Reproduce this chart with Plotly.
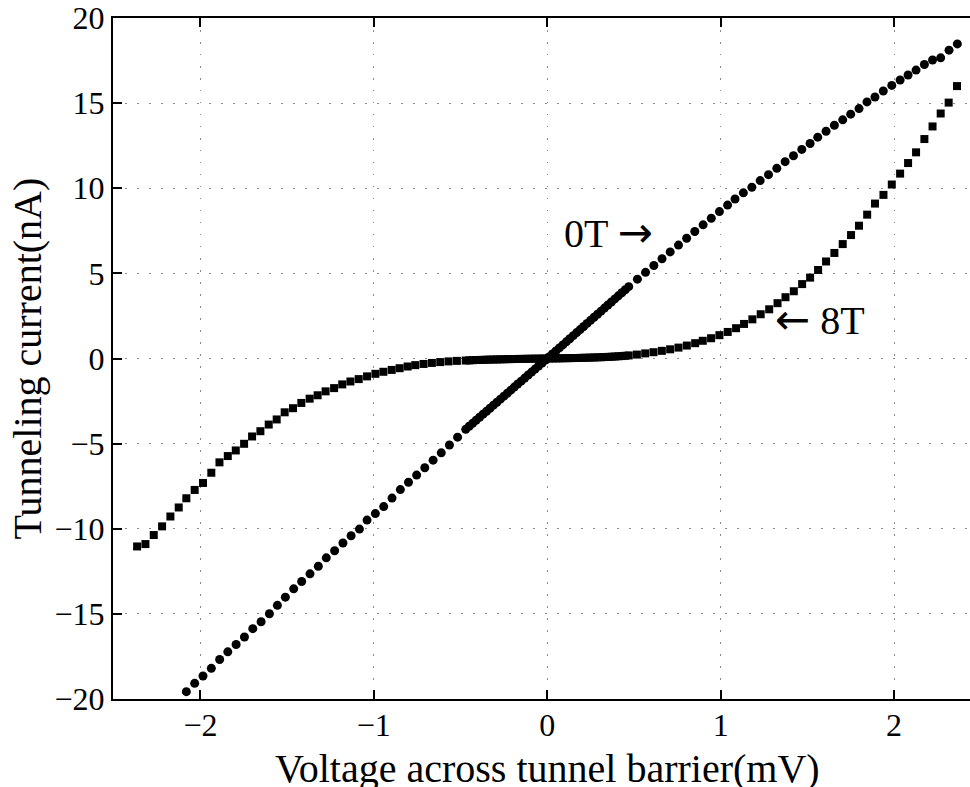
import plotly.graph_objects as go

# ---------------- data ----------------
# 0 T curve (circles)
v0_neg = [-2.081, -2.033, -1.985, -1.937, -1.889, -1.842, -1.794, -1.746, -1.698, -1.650,
          -1.602, -1.556, -1.510, -1.462, -1.416, -1.368, -1.320, -1.274, -1.226, -1.178,
          -1.131, -1.083, -1.039, -0.991, -0.943, -0.895, -0.847, -0.800, -0.753, -0.706,
          -0.658, -0.611, -0.564, -0.517]
i0_neg = [-19.57, -19.08, -18.65, -18.20, -17.68, -17.23, -16.80, -16.36, -15.87, -15.46,
          -14.99, -14.50, -14.02, -13.53, -13.10, -12.65, -12.20, -11.71, -11.29, -10.84,
          -10.41, -10.02, -9.49, -9.11, -8.70, -8.20, -7.70, -7.27, -6.85, -6.42,
          -5.97, -5.54, -5.08, -4.62]
v0_fine = [-0.47, -0.45, -0.43, -0.41, -0.39, -0.37, -0.35, -0.33, -0.31, -0.29,
           -0.27, -0.25, -0.23, -0.21, -0.19, -0.17, -0.15, -0.13, -0.11, -0.09,
           -0.07, -0.05, -0.03, -0.01, 0.01, 0.03, 0.05, 0.07, 0.09, 0.11,
           0.13, 0.15, 0.17, 0.19, 0.21, 0.23, 0.25, 0.27, 0.29, 0.31,
           0.33, 0.35, 0.37, 0.39, 0.41, 0.43, 0.45, 0.47]
i0_fine = [-4.16, -3.98, -3.81, -3.63, -3.45, -3.27, -3.10, -2.92, -2.74, -2.57,
           -2.39, -2.21, -2.04, -1.86, -1.68, -1.50, -1.33, -1.15, -0.97, -0.80,
           -0.62, -0.44, -0.27, -0.09, 0.09, 0.27, 0.44, 0.62, 0.80, 0.98,
           1.16, 1.34, 1.52, 1.70, 1.88, 2.06, 2.24, 2.42, 2.60, 2.78,
           2.96, 3.14, 3.32, 3.50, 3.68, 3.86, 4.04, 4.22]
v0_pos = [0.520, 0.567, 0.615, 0.662, 0.709, 0.757, 0.804, 0.851, 0.899, 0.946,
          0.993, 1.040, 1.083, 1.131, 1.180, 1.228, 1.276, 1.324, 1.372, 1.420,
          1.468, 1.516, 1.560, 1.608, 1.656, 1.704, 1.750, 1.798, 1.844, 1.890,
          1.938, 1.987, 2.035, 2.081, 2.127, 2.175, 2.222, 2.269, 2.317, 2.365]
i0_pos = [4.66, 5.06, 5.46, 5.86, 6.26, 6.66, 7.06, 7.46, 7.85, 8.24,
          8.63, 9.01, 9.37, 9.73, 10.06, 10.45, 10.80, 11.17, 11.56, 11.91,
          12.28, 12.63, 13.00, 13.35, 13.70, 14.02, 14.35, 14.68, 15.07, 15.36,
          15.71, 16.04, 16.36, 16.65, 16.94, 17.27, 17.53, 17.66, 18.11, 18.48]

# 8 T curve (squares)
v8_neg = [-2.365, -2.317, -2.269, -2.221, -2.173, -2.125, -2.081, -2.033, -1.985, -1.937,
          -1.890, -1.842, -1.796, -1.748, -1.702, -1.654, -1.606, -1.560, -1.514, -1.466,
          -1.418, -1.370, -1.324, -1.278, -1.229, -1.182, -1.135, -1.087, -1.039, -0.991,
          -0.945, -0.897, -0.851, -0.805, -0.761, -0.713, -0.665, -0.617, -0.569, -0.521]
i8_neg = [-11.04, -10.90, -10.37, -9.86, -9.28, -8.75, -8.21, -7.72, -7.31, -6.71,
          -6.10, -5.73, -5.40, -5.01, -4.58, -4.27, -3.88, -3.58, -3.16, -2.92,
          -2.61, -2.36, -2.16, -1.93, -1.74, -1.52, -1.35, -1.21, -1.05, -0.90,
          -0.78, -0.67, -0.57, -0.47, -0.39, -0.32, -0.26, -0.21, -0.17, -0.14]
v8_fine = [-0.47, -0.45, -0.43, -0.41, -0.39, -0.37, -0.35, -0.33, -0.31, -0.29,
           -0.27, -0.25, -0.23, -0.21, -0.19, -0.17, -0.15, -0.13, -0.11, -0.09,
           -0.07, -0.05, -0.03, -0.01, 0.01, 0.03, 0.05, 0.07, 0.09, 0.11,
           0.13, 0.15, 0.17, 0.19, 0.21, 0.23, 0.25, 0.27, 0.29, 0.31,
           0.33, 0.35, 0.37, 0.39, 0.41, 0.43, 0.45, 0.47]
i8_fine = [-0.12, -0.11, -0.10, -0.09, -0.085, -0.08, -0.07, -0.065, -0.06, -0.055,
           -0.05, -0.045, -0.04, -0.035, -0.03, -0.027, -0.023, -0.02, -0.016, -0.013,
           -0.01, -0.007, -0.004, -0.001, 0.001, 0.004, 0.007, 0.01, 0.014, 0.018,
           0.022, 0.026, 0.031, 0.036, 0.041, 0.047, 0.053, 0.06, 0.067, 0.075,
           0.084, 0.094, 0.105, 0.117, 0.13, 0.144, 0.16, 0.18]
v8_pos = [0.517, 0.565, 0.613, 0.661, 0.709, 0.757, 0.805, 0.853, 0.897, 0.945,
          0.993, 1.041, 1.089, 1.135, 1.183, 1.231, 1.280, 1.328, 1.374, 1.422,
          1.470, 1.516, 1.562, 1.608, 1.656, 1.704, 1.752, 1.798, 1.845, 1.890,
          1.939, 1.987, 2.035, 2.081, 2.127, 2.175, 2.222, 2.269, 2.315, 2.363]
i8_pos = [0.23, 0.30, 0.37, 0.45, 0.54, 0.64, 0.76, 0.90, 1.04, 1.19,
          1.37, 1.56, 1.78, 2.03, 2.30, 2.60, 2.89, 3.25, 3.60, 3.95,
          4.37, 4.75, 5.20, 5.70, 6.20, 6.72, 7.25, 7.80, 8.45, 9.10,
          9.61, 10.22, 10.86, 11.48, 12.11, 12.89, 13.63, 14.39, 15.03, 16.00]

x_ticks = [-2, -1, 0, 1, 2]
y_ticks = [-20, -15, -10, -5, 0, 5, 10, 15, 20]

FONT = "Liberation Serif"
ARROW = "<span style='font-family:DejaVu Sans;font-size:42px'>{}</span>"


def lab(t):
    return ("\u2212" + str(-t)) if t < 0 else str(t)


fig = go.Figure()
fig.add_trace(go.Scatter(
    x=v8_neg + v8_fine + v8_pos, y=i8_neg + i8_fine + i8_pos,
    mode="markers", name="8T",
    marker=dict(symbol="square", size=8, color="black", line=dict(width=0)),
))
fig.add_trace(go.Scatter(
    x=v0_neg + v0_fine + v0_pos, y=i0_neg + i0_fine + i0_pos,
    mode="markers", name="0T",
    marker=dict(symbol="circle", size=9, color="black", line=dict(width=0)),
))

grid = dict(showgrid=True, gridcolor="#8a8a8a", gridwidth=1, griddash="1.5px,10.5px")

fig.update_xaxes(
    range=[-2.504, 2.438], tickvals=x_ticks, ticktext=[lab(t) for t in x_ticks],
    ticks="inside", ticklen=9, tickwidth=1.5, tickcolor="black",
    showline=True, linecolor="black", linewidth=2, mirror="ticks",
    zeroline=False, tickfont=dict(family=FONT, size=32, color="black"),
    ticklabelstandoff=-3, ticklabeloverflow="allow", **grid,
)
fig.update_yaxes(
    range=[-20, 20], tickvals=y_ticks, ticktext=[lab(t) for t in y_ticks],
    ticks="inside", ticklen=9, tickwidth=1.5, tickcolor="black",
    showline=True, linecolor="black", linewidth=2, mirror=False,
    zeroline=False, tickfont=dict(family=FONT, size=32, color="black"),
    ticklabelstandoff=0, ticklabeloverflow="allow", **grid,
)

L, T, B = 113, 15, 88
W, H = 970, 787
pw, ph = W - L, H - T - B


def px(xp):
    return (xp - L) / pw


def py(yp):
    return (H - B - yp) / ph


annotations = [
    dict(text="Voltage across tunnel barrier(mV)", xref="paper", yref="paper",
         x=px(547), y=py(769), xanchor="center", yanchor="middle", showarrow=False,
         font=dict(family=FONT, size=40, color="black")),
    dict(text="Tunneling current(nA)", xref="paper", yref="paper",
         x=px(27), y=py(357), xanchor="center", yanchor="middle", textangle=-90, showarrow=False,
         font=dict(family=FONT, size=40, color="black")),
    dict(text="0T " + ARROW.format("\u2192"), xref="x", yref="y", x=0.085, y=7.4,
         xanchor="left", yanchor="middle",
         showarrow=False, font=dict(family=FONT, size=40, color="black")),
    dict(text=ARROW.format("\u2190") + " 8T", xref="x", yref="y", x=1.30, y=2.3,
         xanchor="left", yanchor="middle",
         showarrow=False, font=dict(family=FONT, size=40, color="black")),
]

fig.update_layout(
    width=W, height=H, margin=dict(l=L, r=0, t=T, b=B, pad=0),
    plot_bgcolor="white", paper_bgcolor="white", showlegend=False,
    annotations=annotations,
)

fig.write_html("out.html")
